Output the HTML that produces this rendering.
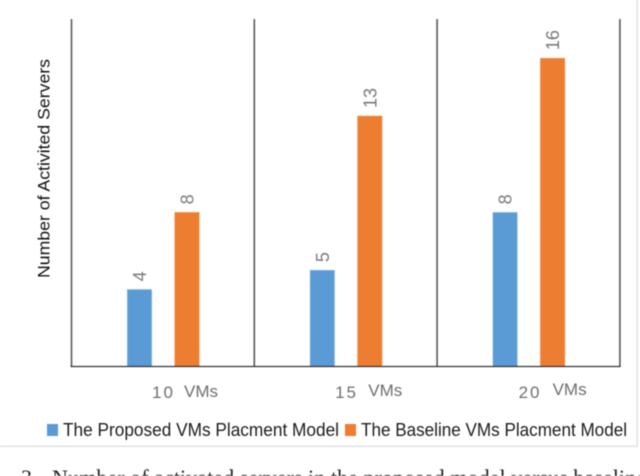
<!DOCTYPE html>
<html lang="en">
<head>
<meta charset="utf-8">
<title>Number of Activated Servers</title>
<style>
html,body{margin:0;padding:0;background:#fff;width:640px;height:476px;overflow:hidden}
svg{display:block;filter:blur(0.4px)}
text{font-family:"Liberation Sans",sans-serif}
</style>
</head>
<body>
<svg id="chart" xmlns="http://www.w3.org/2000/svg" width="640" height="476" viewBox="0 0 640 476">
  <rect x="0" y="445.5" width="638" height="1.5" fill="#e2e2e2"/>
  <rect x="636.5" y="0" width="1.5" height="447" fill="#e2e2e2"/>
  <text transform="translate(49.5,278) rotate(-90)" font-size="17" fill="#111" textLength="219" lengthAdjust="spacingAndGlyphs">Number of Activited Servers</text>
  <g id="plot"></g>
  <g>
    <rect x="47" y="424" width="11" height="12" fill="#5b9bd5"/>
    <text x="63" y="436" font-size="18.5" fill="#1c1c1c" textLength="276" lengthAdjust="spacingAndGlyphs">The Proposed VMs Placment Model</text>
    <rect x="345" y="424" width="11" height="12" fill="#ed7d31"/>
    <text x="361" y="436" font-size="18.5" fill="#1c1c1c" textLength="266" lengthAdjust="spacingAndGlyphs">The Baseline VMs Placment Model</text>
  </g>
  <g style="font-family:'Liberation Serif',serif">
    <text x="21" y="485" font-size="22" fill="#222" style="font-family:'Liberation Serif',serif">3.</text>
    <text x="52" y="485" font-size="22" fill="#222" style="font-family:'Liberation Serif',serif" textLength="594" lengthAdjust="spacingAndGlyphs">Number of activated servers in the proposed model versus baseline</text>
  </g>
</svg>
<script>
const categoryNumbers = ['10', '15', '20'];
const categoryUnits = ['VMs', 'VMs', 'VMs'];
const proposedValues = [4, 5, 8];
const baselineValues = [8, 13, 16];

const NS = 'http://www.w3.org/2000/svg';
const plot = document.getElementById('plot');
const plotLeft = 71.5, bandWidth = 182.8, plotBottom = 366.5, plotTop = 19, unitHeight = 19.27;
const xBand = function (i) { return plotLeft + i * bandWidth; };
const yScale = function (v) { return plotBottom - v * unitHeight; };

function make(tag, attrs, text) {
  const el = document.createElementNS(NS, tag);
  for (const key in attrs) el.setAttribute(key, attrs[key]);
  if (text !== undefined) el.textContent = text;
  return el;
}

for (let i = 0; i <= categoryNumbers.length; i++) {
  const divider = make('line', { x1: xBand(i), x2: xBand(i), y1: plotTop, y2: plotBottom, stroke: '#595959', 'stroke-width': 1.6 });
  
  
  plot.appendChild(divider);
}

function drawBar(value, cx, fill, edge, name) {
  const y = yScale(value);
  const bar = make('rect', { x: cx - 12.3, y: y, width: 24.6, height: plotBottom - y, fill: fill, stroke: edge, 'stroke-width': 0.6 });
  
  
  plot.appendChild(bar);
  const lx = cx + 6.5, ly = y - 8;
  const label = make('text', { x: lx, y: ly, transform: 'rotate(-90 ' + lx + ' ' + ly + ')', 'font-size': 18, fill: '#7a7a7a' }, String(value));
  
  
  plot.appendChild(label);
}

const numberOffsets = [80.5, 80.8, 81.5];
categoryNumbers.forEach(function (num, i) {
  const x0 = xBand(i);
  drawBar(proposedValues[i], x0 + 68, '#5b9bd5', '#a9cbe9', 'bar-proposed-' + num);
  drawBar(baselineValues[i], x0 + 115.5, '#ed7d31', '#f4a26e', 'bar-baseline-' + num);

  const numLabel = make('text', { x: x0 + numberOffsets[i], y: 398, 'font-size': 17, fill: '#6e6e6e', 'letter-spacing': 2 }, num);
  
  
  plot.appendChild(numLabel);

  const unitLabel = make('text', { x: x0 + 112.5 + i * 1.5, y: 397 - i, 'font-size': 17, fill: '#6e6e6e' }, categoryUnits[i]);
  
  
  plot.appendChild(unitLabel);
});

const axis = make('line', { x1: plotLeft - 1, x2: xBand(3) + 0.7, y1: plotBottom, y2: plotBottom, stroke: '#333', 'stroke-width': 1.3 });


plot.appendChild(axis);
</script>
</body>
</html>
